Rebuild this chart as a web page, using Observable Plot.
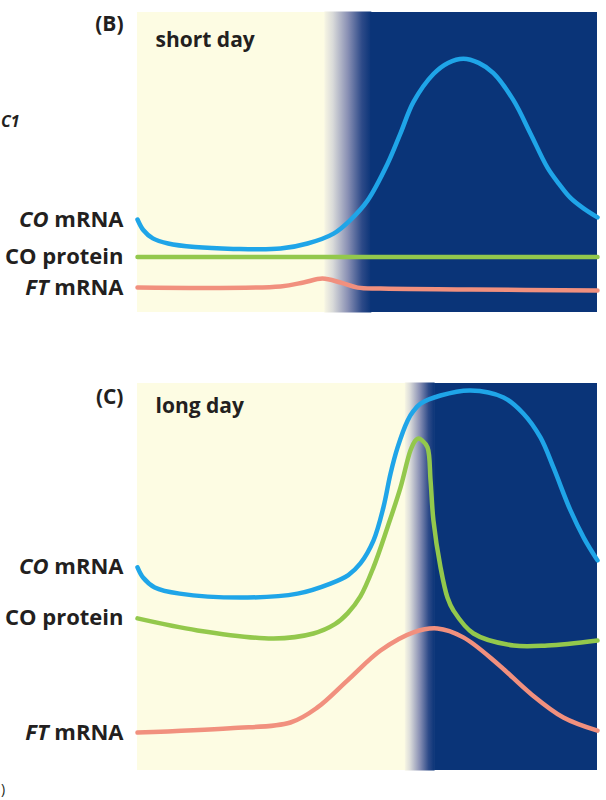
<!DOCTYPE html>
<html><head><meta charset="utf-8">
<script src="https://cdn.jsdelivr.net/npm/d3@7"></script>
<script src="https://cdn.jsdelivr.net/npm/@observablehq/plot@0.6"></script>
<style>
body{margin:0;background:#fff;}
#wrap{position:relative;width:606px;height:800px;overflow:hidden;font-family:"Open Sans",sans-serif;}
#wrap svg{position:absolute;left:0;}
.frag{position:absolute;font-weight:700;color:#231f20;line-height:1;white-space:nowrap;}
</style></head><body><div id="wrap"></div>
<script>
// ---- data: hours after dawn (0–24) vs relative level (0–100) ----
const seriesNames = ["CO mRNA", "CO protein", "FT mRNA"];

// (B) short day
const shortPhases = [
  {phase: "light", start: 0, end: 9.8},
  {phase: "dusk", start: 9.8, end: 12.2},
  {phase: "dark", start: 12.2, end: 24}
];
const shortCOmRNA = [[0,31],[0.3,27.5],[0.8,24.7],[1.6,23],[3,21.8],[5,21.2],[7.46,21.3],[8.87,23],[10.23,26.3],[11.1,30.8],[12.0,37.3],[13.04,49.5],[13.72,59.7],[14.4,70.2],[15.44,79.5],[16.2,83.2],[17.0,84.6],[17.8,83.2],[18.57,79.8],[19.62,70.7],[20.5,59.7],[21.39,48.3],[22.0,42.8],[22.59,38.2],[23.27,34.7],[24,31.7]];
const shortCOprotein = [[0,18.5],[24,18.5]];
const shortFTmRNA = [[0,8.3],[7.46,8.7],[8.66,10],[9.65,11.3],[10.59,10],[11.48,8.3],[12.68,8],[17.4,7.7],[24,7.3]];

// (C) long day
const longPhases = [
  {phase: "light", start: 0, end: 14.0},
  {phase: "dusk", start: 14.0, end: 15.5},
  {phase: "dark", start: 15.5, end: 24}
];
const longCOmRNA = [[0,52.5],[0.3,49.8],[0.9,47.3],[2.2,45.7],[5.74,44.7],[8.35,45.7],[10.07,48.3],[11.0,50.5],[11.63,53.5],[12.31,59.4],[12.83,68.0],[13.2,76.7],[13.57,83.5],[14.09,90.4],[14.4,92.9],[14.77,94.8],[15.81,96.9],[17.37,98.2],[19.10,96.4],[20.14,92.2],[21.03,86.0],[21.70,78.3],[22.59,67.2],[23.3,60.0],[24,54.3]];
const longCOprotein = [[0,39.3],[3.13,36.2],[7.10,34.1],[9.18,35.4],[10.3,37.8],[10.96,40.6],[11.63,45.0],[12.31,52.5],[13.04,62.8],[13.72,73.1],[14.24,82.7],[14.5,85.3],[14.66,85.8],[14.85,85.3],[15.13,83.5],[15.29,74.9],[15.44,64.6],[15.81,52.5],[16.17,44.7],[16.49,41.3],[17.53,35.4],[19.62,32.3],[21.39,32.3],[24,33.6]];
const longFTmRNA = [[0,9.8],[4.85,10.9],[7.98,12.4],[9.39,16.3],[10.96,23.3],[12.68,31.0],[14.40,35.7],[15.65,36.7],[17.0,34.4],[18.78,27.6],[20.5,19.9],[22.22,13.7],[24,10.3]];

// ---- styles ----
const LIGHT = "#fdfce3", DARK = "#0a3478";
const COLORS = {"CO mRNA": "#1fa5e8", "CO protein": "#93c84c", "FT mRNA": "#f1907e"};
const INK = "#231f20";
const FONT = "'Open Sans', sans-serif";

function panel({id, top, height, marginTop, marginBottom, phases, data, panelLabel, dayLabel, panelDy, dayDy}) {
  const series = seriesNames.map((name, i) => ({name, points: data[i]}));
  const defs = () => {
    const d = d3.create("svg:defs");
    const g = d.append("linearGradient").attr("id", id).attr("x1", 0).attr("x2", 1).attr("y1", 0).attr("y2", 0);
    [[0, "#f7f6e3"], [0.18, "#d9dad9"], [0.5, "#8990b4"], [0.8, "#2d4a88"], [1, DARK]]
      .forEach(([o, c]) => g.append("stop").attr("offset", o).attr("stop-color", c));
    return d.node();
  };
  const svg = Plot.plot({
    width: 606, height, marginTop, marginBottom, marginLeft: 137, marginRight: 9,
    x: {domain: [0, 24], axis: null},
    y: {domain: [0, 100], axis: null},
    style: {fontFamily: FONT, background: "transparent", overflow: "visible"},
    marks: [
      defs,
      Plot.rect(phases.filter(p => p.phase === "light"), {x1: "start", x2: "end", fill: LIGHT}),
      Plot.rect(phases.filter(p => p.phase === "dusk"), {x1: "start", x2: "end", fill: `url(#${id})`, inset: -0.5}),
      Plot.rect(phases.filter(p => p.phase === "dark"), {x1: "start", x2: "end", fill: DARK}),
      ...series.map(s => Plot.line(s.points, {x: d => d[0], y: d => d[1], stroke: COLORS[s.name], strokeWidth: 4.5, curve: "catmull-rom"})),
      Plot.text(series, {x: s => s.points[0][0], y: s => s.points[0][1], text: "name", textAnchor: "end", dx: -14, fontSize: 22, fontWeight: 700, fill: INK}),
      Plot.text([panelLabel], {frameAnchor: "top-left", textAnchor: "end", lineAnchor: "middle", dx: -14, dy: panelDy, fontSize: 21, fontWeight: 700, fill: INK}),
      Plot.text([dayLabel], {frameAnchor: "top-left", textAnchor: "start", lineAnchor: "middle", dx: 18, dy: dayDy, fontSize: 21, fontWeight: 700, fill: INK})
    ]
  });
  // italicise gene symbols (CO / FT) in the mRNA labels
  svg.querySelectorAll("text").forEach(t => {
    const m = t.textContent.match(/^(CO|FT) (mRNA)$/);
    if (m) {
      t.textContent = "";
      const ns = "http://www.w3.org/2000/svg";
      const a = document.createElementNS(ns, "tspan"); a.setAttribute("font-style", "italic"); a.textContent = m[1];
      const b = document.createElementNS(ns, "tspan"); b.textContent = " " + m[2];
      t.appendChild(a); t.appendChild(b);
    }
  });
  svg.style.top = top + "px";
  return svg;
}

const wrap = document.getElementById("wrap");
wrap.appendChild(panel({id: "gB", top: 0, height: 335, marginTop: 12, marginBottom: 23,
  phases: shortPhases, data: [shortCOmRNA, shortCOprotein, shortFTmRNA],
  panelLabel: "(B)", dayLabel: "short day", panelDy: 11.5, dayDy: 27.5}));
wrap.appendChild(panel({id: "gC", top: 340, height: 460, marginTop: 43, marginBottom: 30,
  phases: longPhases, data: [longCOmRNA, longCOprotein, longFTmRNA],
  panelLabel: "(C)", dayLabel: "long day", panelDy: 13.5, dayDy: 23}));

// fragments of the neighbouring panel at the left edge
const f1 = document.createElement("div"); f1.className = "frag"; f1.textContent = "C1";
f1.style.cssText = "left:1px;top:113px;font-size:16px;font-style:italic;";
wrap.appendChild(f1);
const f2 = document.createElement("div"); f2.className = "frag"; f2.textContent = ")";
f2.style.cssText = "left:1px;top:782px;font-size:14px;font-weight:400;";
wrap.appendChild(f2);
</script></body></html>
